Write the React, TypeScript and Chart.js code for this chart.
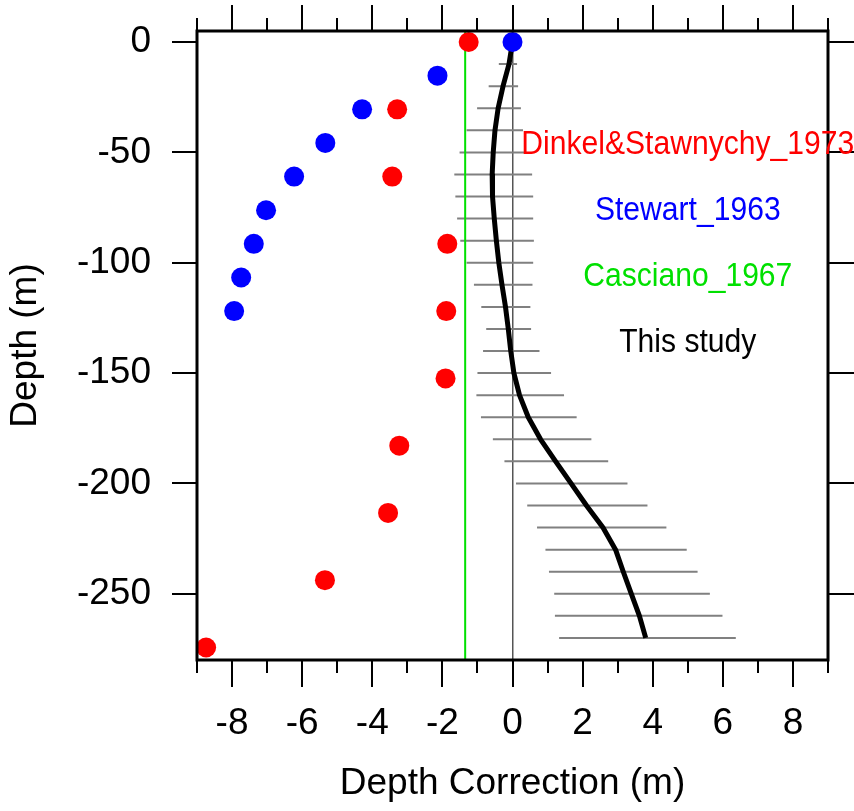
import React, { useEffect, useRef } from 'react';
import { Chart, registerables } from 'chart.js';

Chart.register(...registerables);

// ---- data ----
// Dinkel & Stawnychy (1973): every 100 ft
const DS_DEPTH = [0, -30.48, -60.96, -91.44, -121.92, -152.4, -182.88, -213.36, -243.84, -274.32];
const DS_CORR = [-1.25, -3.29, -3.43, -1.86, -1.89, -1.91, -3.23, -3.55, -5.35, -8.74];
// Stewart (1963): every 50 ft
const ST_DEPTH = [0, -15.24, -30.48, -45.72, -60.96, -76.2, -91.44, -106.68, -121.92];
const ST_CORR = [0, -2.14, -4.29, -5.34, -6.23, -7.03, -7.38, -7.74, -7.94];
// Casciano (1967): constant correction
const CASCIANO_CORR = -1.35;
const CASCIANO_DEPTH = [5, -280];
// This study
const STUDY_DEPTH = [0, -10, -20, -30, -40, -50, -60, -70, -80, -90, -100, -110, -120, -130, -140, -150, -160, -170, -180, -190, -200, -210, -220, -230, -240, -250, -260, -270];
const STUDY_CORR = [0, -0.1, -0.27, -0.41, -0.5, -0.55, -0.58, -0.57, -0.52, -0.46, -0.39, -0.3, -0.2, -0.12, -0.05, 0.04, 0.2, 0.45, 0.8, 1.23, 1.67, 2.11, 2.58, 2.94, 3.16, 3.39, 3.62, 3.8];
const ERR_DEPTH = [-10, -20, -30, -40, -50, -60, -70, -80, -90, -100, -110, -120, -130, -140, -150, -160, -170, -180, -190, -200, -210, -220, -230, -240, -250, -260, -270];
const ERR_LOW = [-0.39, -0.68, -1.01, -1.31, -1.51, -1.66, -1.63, -1.58, -1.49, -1.31, -1.1, -0.89, -0.75, -0.84, -1.0, -1.03, -0.9, -0.56, -0.23, 0.1, 0.42, 0.7, 0.94, 1.04, 1.19, 1.21, 1.33];
const ERR_HIGH = [0.13, 0.16, 0.24, 0.3, 0.38, 0.56, 0.59, 0.59, 0.61, 0.59, 0.57, 0.51, 0.53, 0.77, 1.1, 1.47, 1.83, 2.25, 2.73, 3.28, 3.85, 4.39, 4.97, 5.28, 5.63, 5.99, 6.37];

const X_TICKS = [-9, -8, -7, -6, -5, -4, -3, -2, -1, 0, 1, 2, 3, 4, 5, 6, 7, 8, 9];
const X_LABELED = [-8, -6, -4, -2, 0, 2, 4, 6, 8];
const Y_TICKS = [0, -50, -100, -150, -200, -250];

const SERIES_NAMES = ['Dinkel&Stawnychy_1973', 'Stewart_1963', 'Casciano_1967', 'This study'];

const FAMILY = "'Liberation Sans', Arial, Helvetica, sans-serif";
const RED = '#ff0000';
const BLUE = '#0000ff';
const GREEN = '#00e000';

const annotationPlugin = {
  id: 'ncl-frame',
  afterDraw(chart: any) {
    const { ctx, chartArea } = chart;
    const xs = chart.scales.x;
    const ys = chart.scales.y;
    const { left, right, top, bottom } = chartArea;
    ctx.save();
    // tick marks on all four sides (outward)
    ctx.strokeStyle = '#000';
    ctx.lineWidth = 2;
    ctx.lineCap = 'butt';
    ctx.beginPath();
    X_TICKS.forEach((v) => {
      const px = Math.round(xs.getPixelForValue(v)) + 0.0;
      const major = X_LABELED.includes(v);
      const lb = major ? 27 : 13;
      const lt = major ? 26 : 13;
      ctx.moveTo(px, bottom);
      ctx.lineTo(px, bottom + lb);
      ctx.moveTo(px, top);
      ctx.lineTo(px, top - lt);
    });
    Y_TICKS.forEach((v) => {
      const py = Math.round(ys.getPixelForValue(v));
      ctx.moveTo(left, py);
      ctx.lineTo(left - 25, py);
      ctx.moveTo(right, py);
      ctx.lineTo(right + 26, py);
    });
    ctx.stroke();
    // frame
    ctx.lineWidth = 3;
    ctx.strokeRect(left, top, right - left, bottom - top);

    // series labels inside the plot
    const colors = [RED, BLUE, GREEN, '#000'];
    const depths = [-45, -75, -105, -135];
    const size = 34;
    ctx.font = `${size}px ${FAMILY}`;
    ctx.textAlign = 'center';
    ctx.textBaseline = 'alphabetic';
    SERIES_NAMES.forEach((name, i) => {
      const px = xs.getPixelForValue(5);
      const py = ys.getPixelForValue(depths[i]);
      ctx.save();
      ctx.fillStyle = colors[i];
      ctx.translate(px, py + 0.358 * size);
      ctx.scale(0.885, 1);
      ctx.fillText(name, 0, 0);
      ctx.restore();
    });
    ctx.restore();
  },
};

function buildErrorBars() {
  const pts: any[] = [];
  ERR_DEPTH.forEach((d, i) => {
    pts.push({ x: ERR_LOW[i], y: d });
    pts.push({ x: ERR_HIGH[i], y: d });
    pts.push({ x: ERR_HIGH[i], y: null });
  });
  return pts;
}

export default function App() {
  const canvasRef = useRef<HTMLCanvasElement | null>(null);

  useEffect(() => {
    if (!canvasRef.current) return;
    const chart = new Chart(canvasRef.current, {
      type: 'scatter',
      data: {
        datasets: [
          {
            label: SERIES_NAMES[0],
            data: DS_DEPTH.map((d, i) => ({ x: DS_CORR[i], y: d })),
            showLine: false,
            pointRadius: 10,
            pointBackgroundColor: RED,
            pointBorderWidth: 0,
            pointBorderColor: RED,
            order: 0,
            clip: false,
          } as any,
          {
            label: SERIES_NAMES[1],
            data: ST_DEPTH.map((d, i) => ({ x: ST_CORR[i], y: d })),
            showLine: false,
            pointRadius: 10,
            pointBackgroundColor: BLUE,
            pointBorderWidth: 0,
            pointBorderColor: BLUE,
            order: 0,
            clip: false,
          } as any,
          {
            label: SERIES_NAMES[2],
            data: CASCIANO_DEPTH.map((d) => ({ x: CASCIANO_CORR, y: d })),
            showLine: true,
            borderColor: GREEN,
            borderWidth: 2,
            pointRadius: 0,
            order: 1,
          } as any,
          {
            label: SERIES_NAMES[3],
            data: STUDY_DEPTH.map((d, i) => ({ x: STUDY_CORR[i], y: d })),
            showLine: true,
            borderColor: '#000',
            borderWidth: 5,
            borderJoinStyle: 'round',
            pointRadius: 0,
            tension: 0,
            order: 1,
          } as any,
          {
            label: 'This study spread',
            data: buildErrorBars(),
            showLine: true,
            spanGaps: false,
            borderColor: '#808080',
            borderWidth: 2,
            pointRadius: 0,
            order: 2,
          } as any,
        ],
      },
      options: {
        animation: false,
        responsive: false,
        maintainAspectRatio: false,
        devicePixelRatio: 1,
        events: [],
        layout: { padding: { top: 31, right: 26, left: 0, bottom: 0 } },
        plugins: {
          legend: { display: false },
          tooltip: { enabled: false },
        },
        scales: {
          x: {
            type: 'linear',
            position: 'bottom',
            min: -9,
            max: 9,
            afterBuildTicks: (s: any) => {
              s.ticks = X_TICKS.map((v) => ({ value: v }));
            },
            afterFit: (s: any) => {
              s.height = 151;
              s.paddingLeft = 0;
              s.paddingRight = 0;
              s.paddingTop = 0;
              s.paddingBottom = 0;
            },
            ticks: {
              autoSkip: false,
              maxRotation: 0,
              padding: 42,
              color: '#000',
              font: { family: FAMILY, size: 37 },
              callback: (v: any) => (X_LABELED.includes(Number(v)) ? String(v) : ''),
            },
            grid: {
              display: true,
              drawTicks: false,
              drawOnChartArea: true,
              lineWidth: 1.5,
              color: (c: any) => (c.tick && c.tick.value === 0 ? '#555555' : 'rgba(0,0,0,0)'),
            },
            border: { display: false },
            title: {
              display: true,
              text: 'Depth Correction (m)',
              color: '#000',
              font: { family: FAMILY, size: 37 },
              padding: { top: 0, bottom: 5 },
            },
          },
          y: {
            type: 'linear',
            position: 'left',
            min: -280,
            max: 5,
            afterBuildTicks: (s: any) => {
              s.ticks = Y_TICKS.map((v) => ({ value: v }));
            },
            afterFit: (s: any) => {
              s.width = 197;
              s.paddingLeft = 0;
              s.paddingRight = 0;
              s.paddingTop = 0;
              s.paddingBottom = 0;
            },
            ticks: {
              autoSkip: false,
              padding: 46,
              color: '#000',
              font: { family: FAMILY, size: 37 },
              callback: (v: any) => String(v),
            },
            grid: { display: false, drawTicks: false },
            border: { display: false },
            title: {
              display: true,
              text: 'Depth (m)',
              color: '#000',
              font: { family: FAMILY, size: 37 },
              padding: { top: 4, bottom: 0 },
            },
          },
        },
      } as any,
      plugins: [annotationPlugin],
    });
    return () => chart.destroy();
  }, []);

  return (
    <div style={{ position: 'absolute', left: 0, top: 0, width: 854, height: 811, background: '#fff' }}>
      <canvas ref={canvasRef} width={854} height={811} style={{ display: 'block' }} />
    </div>
  );
}
